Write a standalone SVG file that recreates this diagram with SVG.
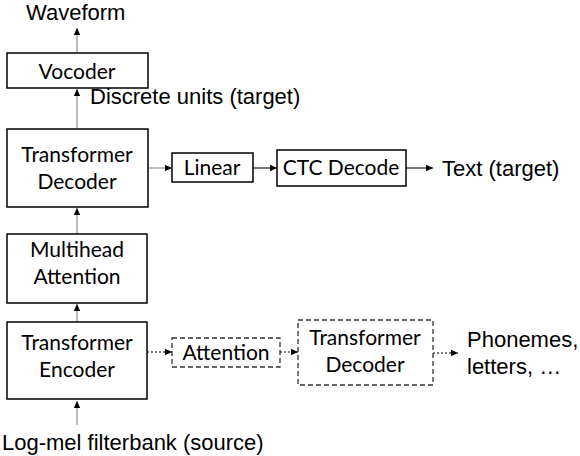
<svg xmlns="http://www.w3.org/2000/svg" width="580" height="456" viewBox="0 0 580 456">
<defs>
<marker id="ah" viewBox="0 0 8 8" refX="7" refY="4" markerWidth="8" markerHeight="8" markerUnits="userSpaceOnUse" orient="auto">
<path d="M0,0.8 L7,4 L0,7.2 Z" fill="#000"/>
</marker>
<style>
.box{fill:#fff;stroke:#000;stroke-width:1.5}
.dbox{fill:#fff;stroke:#333;stroke-width:1.3;stroke-dasharray:5 3}
.bt{font-family:Lato,"Open Sans",sans-serif;font-size:21px;fill:#000;text-anchor:middle}
.lt{font-family:"Liberation Sans",Arial,sans-serif;font-size:22px;fill:#000}
.c{fill:none;stroke:#999;stroke-width:1.3;marker-end:url(#ah)}
.cd{fill:none;stroke:#333;stroke-width:1.3;marker-end:url(#ah)}
.cdot{fill:none;stroke:#555;stroke-width:1.3;stroke-dasharray:2 2;marker-end:url(#ah)}
</style>
</defs>
<rect width="580" height="456" fill="#fff"/>
<g id="connectors">
<line class="c" x1="77" y1="53" x2="77" y2="28"/>
<line class="c" x1="77" y1="129" x2="77" y2="89"/>
<line class="c" x1="77" y1="234" x2="77" y2="208"/>
<line class="c" x1="77" y1="322" x2="77" y2="304"/>
<line class="c" x1="77" y1="425" x2="77" y2="401"/>
<line class="c" x1="148" y1="168" x2="172" y2="168"/>
<line class="cd" x1="253" y1="168" x2="277" y2="168"/>
<line class="cd" x1="406" y1="168" x2="433" y2="168"/>
<line class="cdot" x1="147" y1="352" x2="172" y2="352"/>
<line class="cdot" x1="280" y1="352" x2="298" y2="352"/>
<line class="cdot" x1="433" y1="353" x2="458" y2="353"/>
</g>
<g id="waveform"><text class="lt" x="26" y="20">Waveform</text></g>
<g id="vocoder"><rect class="box" x="7" y="53" width="141" height="35"/><text class="bt" x="77" y="79">Vocoder</text></g>
<g id="discrete-units"><text class="lt" x="90" y="104">Discrete units (target)</text></g>
<g id="transformer-decoder"><rect class="box" x="7" y="129" width="141" height="78"/><text class="bt" x="77" y="162">Transformer</text><text class="bt" x="77" y="189">Decoder</text></g>
<g id="linear"><rect class="box" x="172" y="153" width="81" height="29"/><text class="bt" x="212" y="175">Linear</text></g>
<g id="ctc-decode"><rect class="box" x="277" y="150" width="129" height="36"/><text class="bt" x="341" y="175">CTC Decode</text></g>
<g id="text-target"><text class="lt" x="442" y="176">Text (target)</text></g>
<g id="multihead-attention"><rect class="box" x="7" y="234" width="140" height="69"/><text class="bt" x="77" y="257">Multihead</text><text class="bt" x="77" y="284">Attention</text></g>
<g id="transformer-encoder"><rect class="box" x="7" y="322" width="140" height="77"/><text class="bt" x="77" y="350">Transformer</text><text class="bt" x="77" y="377">Encoder</text></g>
<g id="attention"><rect class="dbox" x="172" y="338" width="108" height="29"/><text class="bt" x="226" y="360">Attention</text></g>
<g id="transformer-decoder-2"><rect class="dbox" x="298" y="320" width="135" height="65"/><text class="bt" x="365" y="345">Transformer</text><text class="bt" x="365" y="372">Decoder</text></g>
<g id="phonemes"><text class="lt" x="467" y="347">Phonemes,</text><text class="lt" x="467" y="374">letters, …</text></g>
<g id="log-mel"><text class="lt" x="2" y="450">Log-mel filterbank (source)</text></g>
</svg>
